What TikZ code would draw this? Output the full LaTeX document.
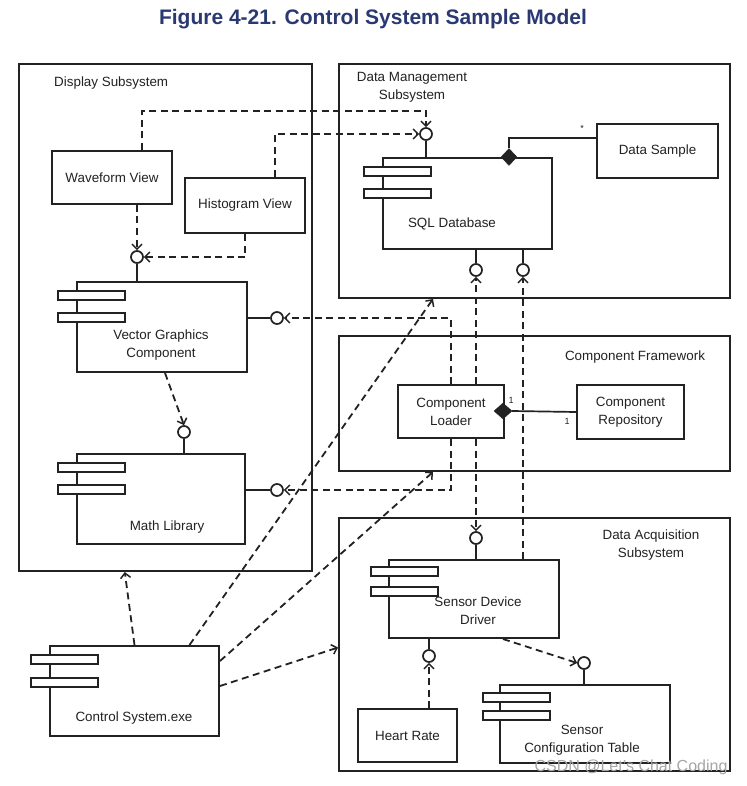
\documentclass[tikz,border=0pt]{standalone}
\usepackage{fontspec}
\setmainfont{Liberation Sans}
\usetikzlibrary{arrows.meta,shapes.geometric,calc}
\definecolor{titleblue}{RGB}{43,57,115}
\definecolor{ink}{RGB}{34,34,34}
\begin{document}
\begin{tikzpicture}[x=1pt,y=-1pt,
  every node/.style={text=ink},
  cont/.style={draw=ink, line width=2pt, anchor=north west, inner sep=0},
  box/.style={draw=ink, line width=2pt, fill=white, anchor=north west, inner sep=0, align=center, font=\fontsize{13.4}{18}\selectfont},
  tabbox/.style={draw=ink, line width=1.7pt, fill=white, anchor=north west, minimum width=67pt, minimum height=9pt, inner sep=0},
  iface/.style={circle, draw=ink, line width=1.7pt, fill=white, minimum size=12pt, inner sep=0},
  stemline/.style={draw=ink, line width=1.7pt},
  dep/.style={draw=ink, line width=1.8pt, dash pattern=on 7pt off 4.5pt, -{Straight Barb[length=5pt,width=10pt,line width=1.5pt]}},
  lbl/.style={font=\fontsize{13.4}{18}\selectfont, align=center, inner sep=0},
  mult/.style={font=\fontsize{9}{10}\selectfont, inner sep=0},
  dmnd/.style={diamond, fill=ink, draw=ink, inner sep=0, minimum width=16pt, minimum height=17pt},
]
\useasboundingbox (0,0) rectangle (746,786);
\fill[white] (0,0) rectangle (746,786);

% title
\node[font=\bfseries\fontsize{21}{24}\selectfont, text=titleblue] (title) at (373,19) {Figure 4-21. Control System Sample Model};

% containers
\node[cont, minimum width=293pt, minimum height=507pt] (disp) at (18,63) {};
\node[cont, minimum width=391pt, minimum height=234pt] (dm) at (338,63) {};
\node[cont, minimum width=391pt, minimum height=135pt] (cf) at (338,335) {};
\node[cont, minimum width=391pt, minimum height=253pt] (da) at (338,517) {};
\node[lbl, anchor=west] (displbl) at (54,83) {Display Subsystem};
\node[lbl] (dmlbl) at (412,87) {Data Management\\Subsystem};
\node[lbl] (cflbl) at (635,357) {Component Framework};
\node[lbl] (dalbl) at (651,545) {Data Acquisition\\Subsystem};

% display subsystem
\node[box, minimum width=120pt, minimum height=53pt] (wv) at (51,150) {Waveform View};
\node[box, minimum width=120pt, minimum height=55pt] (hv) at (184,177) {Histogram View};
\node[box, minimum width=170pt, minimum height=90pt] (vg) at (76,281) {};
\node[tabbox] (vgt1) at (57,290) {};
\node[tabbox] (vgt2) at (57,312) {};
\node[lbl] (vglbl) at (161,345) {Vector Graphics\\Component};
\node[iface] (vgti) at (137,257) {};
\node[iface] (vgri) at (277,318) {};
\draw[stemline] (vgti.south) -- (vgti.south |- vg.north);
\draw[stemline] (vgri.west) -- (vgri.west -| vg.east);

\node[box, minimum width=168pt, minimum height=90pt] (ml) at (76,453) {};
\node[tabbox] (mlt1) at (57,462) {};
\node[tabbox] (mlt2) at (57,484) {};
\node[lbl] (mllbl) at (167,527) {Math Library};
\node[iface] (mlti) at (184,432) {};
\node[iface] (mlri) at (277,490) {};
\draw[stemline] (mlti.south) -- (mlti.south |- ml.north);
\draw[stemline] (mlri.west) -- (mlri.west -| ml.east);

% data management
\node[box, minimum width=169pt, minimum height=91pt] (sql) at (382,157) {};
\node[tabbox] (sqlt1) at (363,166) {};
\node[tabbox] (sqlt2) at (363,188) {};
\node[lbl] (sqllbl) at (452,224) {SQL Database};
\node[iface] (sqlti) at (426,134) {};
\node[iface] (sqlb1) at (476,270) {};
\node[iface] (sqlb2) at (523,270) {};
\draw[stemline] (sqlti.south) -- (sqlti.south |- sql.north);
\draw[stemline] (sqlb1.north) -- (sqlb1.north |- sql.south);
\draw[stemline] (sqlb2.north) -- (sqlb2.north |- sql.south);
\node[box, minimum width=121pt, minimum height=54pt] (ds) at (596,123) {Data Sample};
\node[dmnd] (dmd) at (509,157) {};
\draw[stemline] (dmd.north) |- ([yshift=13pt]ds.west);
\node[mult] (star) at (582,128) {*};

% component framework
\node[box, minimum width=106pt, minimum height=53pt] (cl) at (397,384) {Component\\Loader};
\node[box, minimum width=107pt, minimum height=54pt] (cr) at (576,384) {Component\\Repository};
\node[dmnd, minimum width=18pt, minimum height=16pt] (cldmd) at (503,411) {};
\draw[stemline] (cldmd.east) -- (cr.west);
\node[mult] (m1) at (511,400) {1};
\node[mult] (m2) at (567,421) {1};

% data acquisition
\node[box, minimum width=170pt, minimum height=78pt] (sdd) at (388,559) {};
\node[tabbox] (sddt1) at (370,566) {};
\node[tabbox] (sddt2) at (370,586) {};
\node[lbl] (sddlbl) at (478,611) {Sensor Device\\Driver};
\node[iface] (sddti) at (476,538) {};
\node[iface] (sddbi) at (429,656) {};
\draw[stemline] (sddti.south) -- (sddti.south |- sdd.north);
\draw[stemline] (sddbi.north) -- (sddbi.north |- sdd.south);
\node[box, minimum width=99pt, minimum height=53pt] (hr) at (357,708) {Heart Rate};
\node[box, minimum width=170pt, minimum height=78pt] (sct) at (499,684) {};
\node[tabbox] (sctt1) at (482,692) {};
\node[tabbox] (sctt2) at (482,710) {};
\node[lbl] (sctlbl) at (582,740) {Sensor\\Configuration Table};
\node[iface] (scti) at (584,663) {};
\draw[stemline] (scti.south) -- (scti.south |- sct.north);

% control system
\node[box, minimum width=169pt, minimum height=90pt] (cs) at (49,645) {};
\node[tabbox] (cst1) at (30,654) {};
\node[tabbox] (cst2) at (30,677) {};
\node[lbl] (cslbl) at (134,718) {Control System.exe};

% dependencies
\draw[dep] ([xshift=30pt]wv.north) -- ++(0,-39) -| (sqlti.north);
\draw[dep] ([xshift=30pt]hv.north) |- (sqlti.west);
\draw[dep] (vgti.north |- wv.south) -- (vgti.north);
\draw[dep] (hv.south) |- (vgti.east);
\draw[dep] (cl.north) |- (vgri.east);
\draw[dep] (cl.south) |- (mlri.east);
\draw[dep] (sqlb1.south |- cl.north) -- (sqlb1.south);
\draw[dep] (sddti.north |- cl.south) -- (sddti.north);
\draw[dep] (sqlb2.south |- sdd.north) -- (sqlb2.south);
\draw[dep] (sddbi.south |- hr.north) -- (sddbi.south);
\draw[dep] ([xshift=29pt]sdd.south) -- (scti.west);
\draw[dep] ([xshift=3pt]vg.south) -- (mlti.north);
\draw[dep] (cs.north) -- ($(disp.south west)!0.362!(disp.south east)$);
\draw[dep] ([xshift=55pt]cs.north) -- ([xshift=95pt]dm.south west);
\draw[dep] ([yshift=30pt]cs.east) -- ([xshift=95pt]cf.south west);
\draw[dep] ([yshift=5pt]cs.east) -- ([yshift=-3pt]da.west);

% watermark
\node[font=\fontsize{16}{18}\selectfont, text=black!35, anchor=east] (wm) at (731,767) {CSDN @Let's Chat Coding};
\end{tikzpicture}
\end{document}
